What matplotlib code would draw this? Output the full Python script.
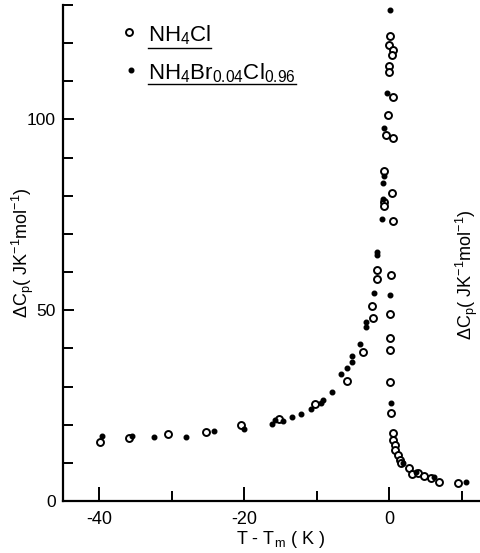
import matplotlib
matplotlib.use('Agg')
import matplotlib.pyplot as plt
from matplotlib.ticker import MultipleLocator, FixedLocator

plt.rcParams['font.family'] = ['Liberation Sans', 'DejaVu Sans']
plt.rcParams['mathtext.fontset'] = 'custom'
plt.rcParams['mathtext.rm'] = 'Liberation Sans'
plt.rcParams['mathtext.it'] = 'Liberation Sans'
plt.rcParams['axes.unicode_minus'] = False

# NH4Cl (open circles)
cl_t = [-39.9, -35.9, -30.5, -25.3, -20.5, -15.2, -10.2, -5.9, -3.7, -2.3,
        -2.4, -1.7, -1.7, -0.7, -0.8, -0.7, -0.5, -0.2, 0.55, 0.5,
        0.4, 0.45, 0.1, 0.0, 0.5, 0.4, 0.0, -0.1, 0.2, 0.1,
        0.1, 0.1, 0.1, 0.25, 0.45, 0.55, 0.7, 0.8, 1.15, 1.4,
        1.6, 2.7, 3.1, 3.9, 4.8, 5.7, 6.8, 9.4]
cl_cp = [15.5, 16.6, 17.5, 18.1, 19.9, 21.5, 25.3, 31.4, 39.1, 48.0,
         51.0, 58.3, 60.5, 78.4, 77.2, 86.6, 95.8, 101.3, 95.2, 105.8,
         80.7, 73.4, 122.0, 119.4, 118.1, 116.8, 114.1, 112.4, 59.2, 49.0,
         42.6, 39.5, 31.2, 23.0, 17.9, 16.1, 14.7, 13.4, 12.0, 10.7,
         9.9, 8.7, 7.2, 7.4, 6.6, 6.1, 5.1, 4.8]

# NH4Br0.04Cl0.96 (dots)
br_t = [-39.6, -35.4, -32.4, -28.0, -24.1, -20.0, -16.2, -15.8, -14.6, -13.4,
        -12.2, -10.8, -9.4, -9.1, -7.9, -6.7, -5.8, -5.1, -5.2, -4.0,
        -3.3, -3.2, -2.2, -1.7, -1.7, -1.0, -0.9, -0.9, -0.8, -0.7,
        -0.4, 0.1, 0.1, 0.2, 1.8, 3.6, 6.1, 10.6]
br_cp = [17.1, 17.0, 16.7, 16.8, 18.4, 19.0, 20.3, 21.2, 21.0, 21.9,
         22.8, 24.1, 25.6, 26.4, 28.6, 33.2, 34.9, 36.5, 38.0, 41.1,
         45.6, 46.9, 54.4, 65.3, 64.4, 74.0, 79.2, 83.3, 85.3, 97.8,
         106.9, 128.8, 53.9, 25.6, 10.0, 7.7, 6.4, 5.1]

x_major = [-40, -20, 0]
x_minor = [-30, -10, 10]
y_major = [0, 50, 100]

label_cl = r'NH$_4$Cl'
label_br = r'NH$_4$Br$_{0.04}$Cl$_{0.96}$'
ylab = r'$\Delta$C$_p$( JK$^{-1}$mol$^{-1}$)'

W, H = 481, 553
fig = plt.figure(figsize=(W / 100, H / 100), dpi=100)
ax = fig.add_axes([62.7 / W, 1 - 501 / H, 1 - 62.7 / W, (501 - 5) / H])

ax.plot(cl_t, cl_cp, 'o', ms=5, mfc='white', mec='black', mew=1.4, ls='none')
ax.plot(br_t, br_cp, 'o', ms=3.3, mfc='black', mec='black', ls='none')

ax.set_xlim(-45, 12.6)
ax.set_ylim(0, 130)
ax.xaxis.set_major_locator(FixedLocator(x_major))
ax.xaxis.set_minor_locator(FixedLocator(x_minor))
ax.yaxis.set_major_locator(FixedLocator(y_major))
ax.yaxis.set_minor_locator(MultipleLocator(10))

for side in ['top', 'right']:
    ax.spines[side].set_visible(False)
for side in ['left', 'bottom']:
    ax.spines[side].set_linewidth(1.6)

ax.tick_params(axis='x', which='major', direction='in', length=10, width=1.4,
               labelsize=13, pad=7)
ax.tick_params(axis='x', which='minor', direction='in', length=7, width=1.4)
ax.tick_params(axis='y', which='major', direction='in', length=8, width=1.4,
               labelsize=12.5, pad=5)
ax.tick_params(axis='y', which='minor', direction='in', length=7, width=1.4)

# hand-made legend with underlined labels
ax.plot([0.159], [0.945], 'o', ms=5, mfc='white', mec='black', mew=1.4,
        transform=ax.transAxes, clip_on=False)
ax.plot([0.1626], [0.869], 'o', ms=3.3, mfc='black', mec='black',
        transform=ax.transAxes, clip_on=False)
t1 = ax.text(0.204, 0.926, label_cl, fontsize=16, va='baseline',
             transform=ax.transAxes)
t2 = ax.text(0.204, 0.849, label_br, fontsize=16, va='baseline',
             transform=ax.transAxes)

fig.canvas.draw()
r = fig.canvas.get_renderer()
inv = ax.transAxes.inverted()
for t, yu in [(t1, 0.914), (t2, 0.841)]:
    bb = t.get_window_extent(r)
    x0 = inv.transform((bb.x0, 0))[0]
    x1 = inv.transform((bb.x1, 0))[0]
    ax.plot([x0, x1], [yu, yu], color='black', lw=1.0,
            transform=ax.transAxes, clip_on=False)

fig.text(10 / W, 1 - 253 / H, ylab, rotation=90, ha='left', va='center',
         fontsize=13)
fig.text(480 / W, 1 - 275 / H, ylab, rotation=90, ha='right', va='center',
         fontsize=13)
fig.text(281 / W, 1 - 539 / H, r'T - T$_m$ ( K )', ha='center', va='center',
         fontsize=13)

fig.savefig('out.png', dpi=100)
